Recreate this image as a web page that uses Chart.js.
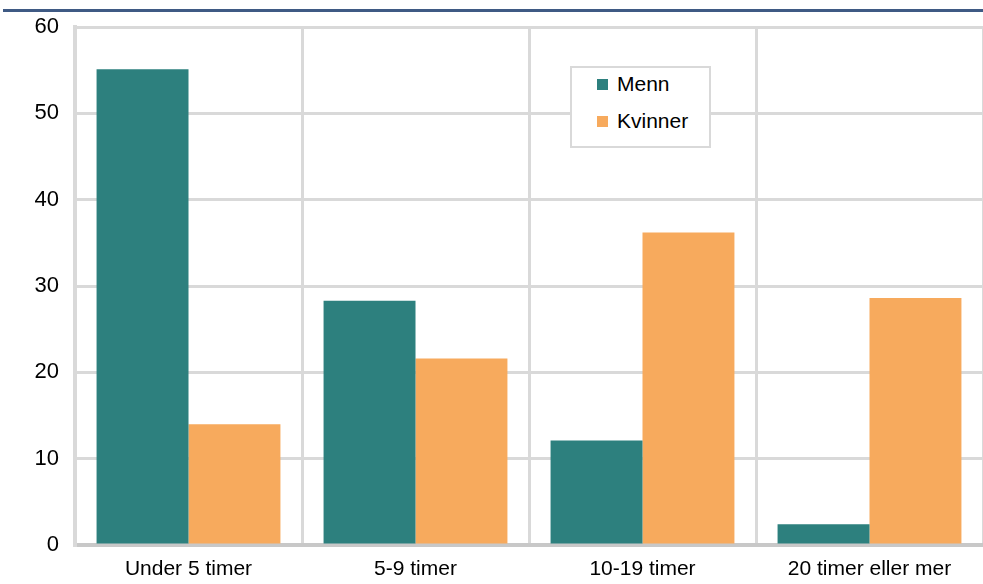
<!DOCTYPE html>
<html>
<head>
<meta charset="utf-8">
<script src="https://cdn.jsdelivr.net/npm/chart.js@4"></script>
<style>
  body { margin: 0; background: #fff; font-family: "Liberation Sans", Arial, sans-serif; }
  .wrap { position: relative; width: 983px; height: 584px; }
  .topline { position: absolute; left: 3px; right: 0; top: 9px; height: 3px; background: #3f5a84; }
  .legend {
    position: absolute; left: 570px; top: 66px; width: 137px; height: 78px;
    border: 2px solid #d9d9d9; background: #fff; font-size: 21px; color: #000;
  }
  .legend-item { position: absolute; left: 25px; display: flex; align-items: center; }
  .legend-item span.box { width: 11px; height: 11px; margin-right: 9px; display: inline-block; }
</style>
</head>
<body>
<div class="wrap">
  <canvas id="grafica" width="983" height="584"></canvas>
  <div class="topline"></div>
  <div class="legend" id="legend"></div>
</div>
<script>
const categories = ['Under 5 timer', '5-9 timer', '10-19 timer', '20 timer eller mer'];
const menn = [55.1, 28.3, 12.1, 2.4];
const kvinner = [14.0, 21.6, 36.2, 28.6];
const seriesLabels = ['Menn', 'Kvinner'];
const seriesColors = ['#2d807e', '#f7aa5d'];

const ctx = document.getElementById('grafica');

const chart = new Chart(ctx, {
  type: 'bar',
  data: {
    labels: categories,
    datasets: [
      { label: seriesLabels[0], data: menn, backgroundColor: seriesColors[0] },
      { label: seriesLabels[1], data: kvinner, backgroundColor: seriesColors[1] }
    ]
  },
  options: {
    responsive: false,
    animation: false,
    layout: { padding: { top: 26, right: 0, left: 0, bottom: 0 } },
    datasets: { bar: { categoryPercentage: 0.81, barPercentage: 1.0 } },
    plugins: { legend: { display: false }, tooltip: { enabled: false } },
    scales: {
      x: {
        grid: { offset: true, color: '#d9d9d9', lineWidth: 3, drawTicks: false },
        border: { color: '#c8c8c8', width: 4 },
        ticks: { color: '#000', font: { size: 21, family: 'Liberation Sans' }, padding: 12 },
        afterFit: (scale) => { scale.height = 39; }
      },
      y: {
        min: 0, max: 60,
        ticks: { stepSize: 10, color: '#000', font: { size: 22, family: 'Liberation Sans', lineHeight: 1 }, padding: 16 },
        grid: { color: '#d9d9d9', lineWidth: 3, drawTicks: false },
        border: { color: '#d9d9d9', width: 4 },
        afterFit: (scale) => { scale.width = 75; }
      }
    }
  }
});

// legend inside the plot, built from the datasets
const legend = document.getElementById('legend');
chart.data.datasets.forEach((ds, i) => {
  const item = document.createElement('div');
  item.className = 'legend-item';
  item.style.top = (4 + i * 37) + 'px';
  item.innerHTML = '<span class="box" style="background:' + ds.backgroundColor + '"></span>' + ds.label;
  legend.appendChild(item);
});
</script>
</body>
</html>
